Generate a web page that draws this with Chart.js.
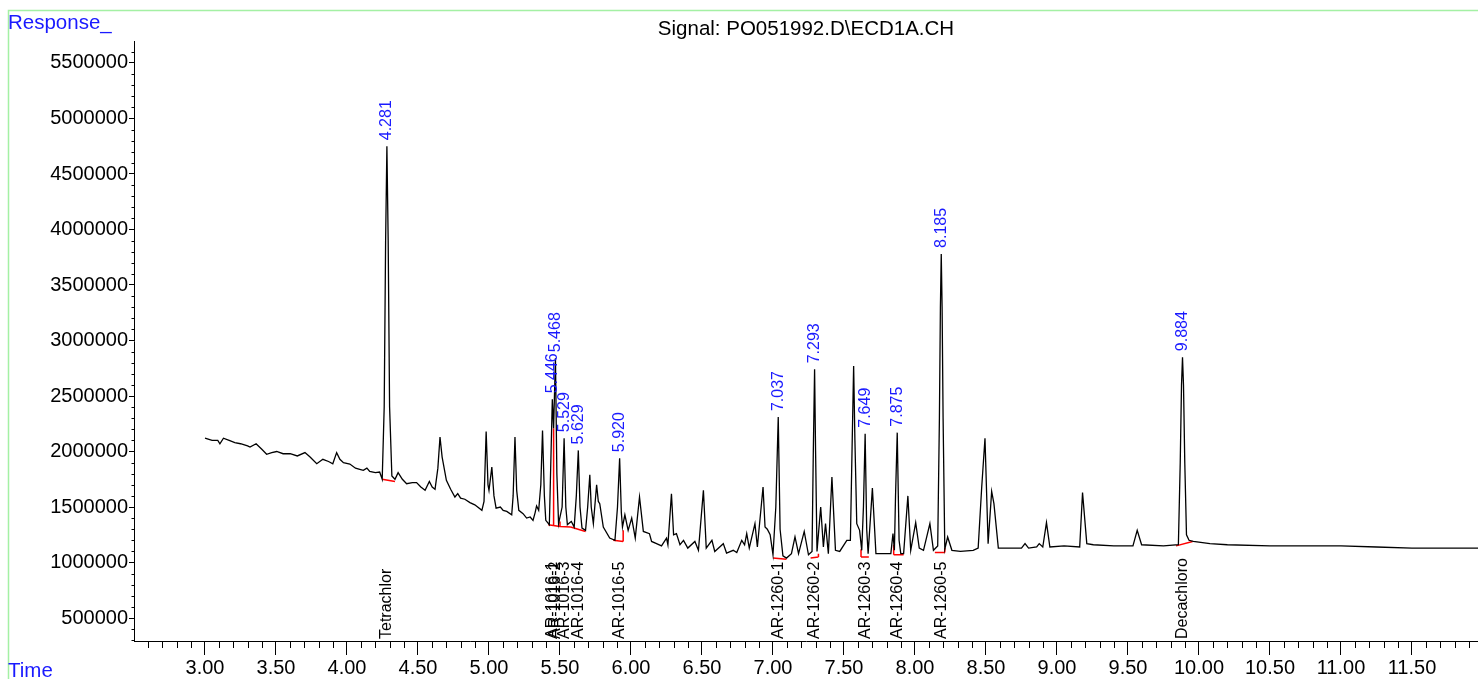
<!DOCTYPE html>
<html>
<head>
<meta charset="utf-8">
<script src="https://cdn.jsdelivr.net/npm/chart.js@4/dist/chart.umd.min.js"></script>
<style>
  body { margin: 0; background: #fff; }
  #wrap { width: 1478px; height: 679px; position: relative; }
</style>
</head>
<body>
<div id="wrap"><canvas id="gcChart" width="1478" height="679"></canvas></div>
<script>
// signal trace (retention time in min, response)
var traceTimes = [3.00, 3.05, 3.09, 3.105, 3.13, 3.17, 3.21, 3.25, 3.30, 3.317, 3.36, 3.40, 3.434, 3.47, 3.505,
  3.55, 3.60, 3.65, 3.704, 3.74, 3.787, 3.83, 3.87, 3.90, 3.927, 3.95, 3.975, 4.02, 4.06, 4.09, 4.115, 4.14,
  4.16, 4.20, 4.23, 4.248, 4.262, 4.272, 4.281, 4.29, 4.30, 4.316, 4.338, 4.36, 4.39, 4.42, 4.46, 4.49, 4.52,
  4.55, 4.58, 4.60, 4.62, 4.64, 4.655, 4.67, 4.70, 4.73, 4.76, 4.78, 4.80, 4.83, 4.866, 4.90, 4.95, 4.965,
  4.98, 4.993, 5.00, 5.02, 5.035, 5.05, 5.08, 5.10, 5.125, 5.16, 5.17, 5.183, 5.195, 5.21, 5.24, 5.265, 5.29,
  5.31, 5.325, 5.335, 5.35, 5.365, 5.377, 5.39, 5.40, 5.425, 5.446, 5.455, 5.468, 5.478, 5.49, 5.515, 5.529,
  5.541, 5.552, 5.57, 5.58, 5.60, 5.615, 5.629, 5.641, 5.655, 5.68, 5.695, 5.71, 5.72, 5.735, 5.758, 5.77,
  5.78, 5.805, 5.85, 5.887, 5.905, 5.920, 5.932, 5.94, 5.957, 5.98, 6.005, 6.03, 6.06, 6.087, 6.13, 6.145,
  6.18, 6.215, 6.25, 6.26, 6.285, 6.30, 6.32, 6.345, 6.37, 6.40, 6.45, 6.475, 6.51, 6.53, 6.57, 6.59, 6.65,
  6.673, 6.72, 6.745, 6.78, 6.80, 6.815, 6.833, 6.873, 6.89, 6.93, 6.944, 6.96, 6.98, 7.00, 7.02, 7.037, 7.05,
  7.07, 7.095, 7.13, 7.155, 7.18, 7.22, 7.25, 7.275, 7.284, 7.293, 7.30, 7.31, 7.336, 7.355, 7.37, 7.39,
  7.415, 7.44, 7.47, 7.52, 7.545, 7.558, 7.568, 7.577, 7.59, 7.61, 7.625, 7.637, 7.649, 7.66, 7.67, 7.70,
  7.725, 7.78, 7.83, 7.845, 7.855, 7.863, 7.875, 7.888, 7.90, 7.92, 7.95, 7.97, 8.005, 8.03, 8.06, 8.105,
  8.13, 8.16, 8.172, 8.179, 8.185, 8.191, 8.198, 8.21, 8.23, 8.26, 8.32, 8.41, 8.445, 8.47, 8.493, 8.515,
  8.54, 8.556, 8.587, 8.67, 8.75, 8.775, 8.80, 8.857, 8.875, 8.90, 8.926, 8.95, 9.05, 9.16, 9.18, 9.21, 9.256,
  9.40, 9.535, 9.565, 9.596, 9.75, 9.855, 9.868, 9.877, 9.884, 9.891, 9.90, 9.912, 9.93, 9.96, 10.077, 10.20,
  10.50, 10.75, 11.00, 11.25, 11.50, 11.75, 11.965];
var traceResponses = [2120000, 2100000, 2100000, 2070000, 2120000, 2100000, 2080000, 2070000, 2050000, 2040000,
  2070000, 2020000, 1975000, 1990000, 2000000, 1980000, 1980000, 1960000, 1990000, 1950000, 1890000, 1930000,
  1910000, 1890000, 1990000, 1930000, 1900000, 1887000, 1850000, 1840000, 1830000, 1850000, 1820000, 1810000,
  1815000, 1750000, 2400000, 3900000, 4750000, 3900000, 2400000, 1780000, 1750000, 1810000, 1750000, 1710000,
  1720000, 1720000, 1680000, 1650000, 1730000, 1680000, 1660000, 1850000, 2130000, 1950000, 1740000, 1660000,
  1590000, 1620000, 1580000, 1570000, 1540000, 1520000, 1470000, 1550000, 2180000, 1700000, 1650000, 1860000,
  1600000, 1490000, 1500000, 1470000, 1460000, 1430000, 1600000, 2130000, 1650000, 1470000, 1440000, 1400000,
  1410000, 1380000, 1450000, 1510000, 1470000, 1700000, 2190000, 1600000, 1380000, 1340000, 2470000, 2210000,
  2840000, 1800000, 1350000, 1500000, 2120000, 1500000, 1340000, 1360000, 1370000, 1320000, 1600000, 2010000,
  1500000, 1310000, 1290000, 1500000, 1790000, 1500000, 1350000, 1700000, 1550000, 1530000, 1320000, 1220000,
  1200000, 1500000, 1940000, 1450000, 1320000, 1430000, 1290000, 1400000, 1220000, 1590000, 1280000, 1260000,
  1190000, 1170000, 1150000, 1220000, 1160000, 1620000, 1250000, 1260000, 1160000, 1200000, 1130000, 1190000,
  1110000, 1650000, 1130000, 1200000, 1100000, 1170000, 1085000, 1110000, 1090000, 1200000, 1160000, 1260000,
  1130000, 1350000, 1140000, 1680000, 1320000, 1300000, 1250000, 1070000, 1500000, 2310000, 1300000, 1060000,
  1040000, 1080000, 1230000, 1080000, 1280000, 1070000, 1100000, 2000000, 2740000, 2000000, 1100000, 1500000,
  1140000, 1350000, 1080000, 1770000, 1110000, 1100000, 1200000, 1200000, 2100000, 2770000, 2100000, 1350000,
  1290000, 1110000, 1500000, 2160000, 1300000, 1080000, 1670000, 1080000, 1080000, 1080000, 1260000, 1110000,
  1600000, 2170000, 1200000, 1080000, 1080000, 1600000, 1110000, 1360000, 1130000, 1110000, 1350000, 1110000,
  1150000, 2300000, 3300000, 3780000, 3300000, 2300000, 1120000, 1230000, 1110000, 1100000, 1110000, 1130000,
  1680000, 2120000, 1170000, 1640000, 1530000, 1130000, 1130000, 1130000, 1170000, 1130000, 1140000, 1170000,
  1140000, 1360000, 1140000, 1150000, 1140000, 1630000, 1170000, 1160000, 1150000, 1150000, 1290000, 1160000,
  1150000, 1160000, 1900000, 2600000, 2850000, 2600000, 1900000, 1250000, 1200000, 1190000, 1170000, 1160000,
  1150000, 1150000, 1150000, 1140000, 1130000, 1130000, 1130000];

// integration baselines (red)
var baseStartTimes = [4.248, 5.417, 5.50, 5.575, 5.875, 7.00, 7.265, 7.62, 7.85, 8.14, 9.838];
var baseStartResp = [1750000, 1340000, 1325000, 1320000, 1200000, 1040000, 1040000, 1050000, 1070000, 1090000, 1150000];
var baseEndTimes = [4.338, 5.50, 5.575, 5.68, 5.945, 7.095, 7.32, 7.675, 7.92, 8.21, 9.955];
var baseEndResp = [1730000, 1325000, 1320000, 1280000, 1190000, 1030000, 1050000, 1050000, 1070000, 1090000, 1190000];
var dropTimes = [5.455, 5.50, 5.945, 7.32, 7.62, 7.85, 8.21];
var dropLow = [1335000, 1325000, 1190000, 1050000, 1050000, 1070000, 1090000];
var dropHigh = [2210000, 1370000, 1290000, 1080000, 1120000, 1160000, 1130000];

// peak annotations
var peakTexts = ['4.281', '5.446', '5.468', '5.529', '5.629', '5.920', '7.037', '7.293', '7.649', '7.875', '8.185', '9.884'];
var peakTimes = [4.281, 5.446, 5.468, 5.529, 5.629, 5.920, 7.037, 7.293, 7.649, 7.875, 8.185, 9.884];
var peakTops = [4750000, 2470000, 2840000, 2120000, 2010000, 1940000, 2310000, 2740000, 2160000, 2170000, 3780000, 2850000];
var compoundNames = ['Tetrachlor', 'AR-1016-1', 'AR-1016-2', 'AR-1016-3', 'AR-1016-4', 'AR-1016-5',
  'AR-1260-1', 'AR-1260-2', 'AR-1260-3', 'AR-1260-4', 'AR-1260-5', 'Decachloro'];

// axis ticks
var xTickValues = [3.0, 3.5, 4.0, 4.5, 5.0, 5.5, 6.0, 6.5, 7.0, 7.5, 8.0, 8.5, 9.0, 9.5, 10.0, 10.5, 11.0, 11.5];
var yTickValues = [500000, 1000000, 1500000, 2000000, 2500000, 3000000, 3500000, 4000000, 4500000, 5000000, 5500000];

var FONT = '"Liberation Sans", Arial, sans-serif';

var tracePts = traceTimes.map(function (t, i) { return { x: t, y: traceResponses[i] }; });
var redPts = [];
baseStartTimes.forEach(function (t, i) {
  redPts.push({ x: t, y: baseStartResp[i] });
  redPts.push({ x: baseEndTimes[i], y: baseEndResp[i] });
  redPts.push({ x: baseEndTimes[i], y: null });
});
dropTimes.forEach(function (t, i) {
  redPts.push({ x: t, y: dropLow[i] });
  redPts.push({ x: t, y: dropHigh[i] });
  redPts.push({ x: t, y: null });
});

var decorPlugin = {
  id: 'decor',
  beforeDraw: function (chart) {
    var c = chart.ctx;
    c.save();
    c.strokeStyle = '#a4f0a4';
    c.lineWidth = 1.5;
    c.beginPath();
    c.moveTo(8.5, 679); c.lineTo(8.5, 10.5); c.lineTo(1478, 10.5);
    c.stroke();
    c.restore();
  },
  afterDraw: function (chart) {
    var c = chart.ctx, xs = chart.scales.x, ys = chart.scales.y;
    var area = chart.chartArea;
    c.save();
    // minor ticks
    c.strokeStyle = '#000';
    c.lineWidth = 1;
    c.beginPath();
    for (var k = 26; k <= 119; k++) {
      if (k % 5 === 0) continue;
      var px = Math.round(xs.getPixelForValue(k / 10)) + 0.5;
      c.moveTo(px, area.bottom); c.lineTo(px, area.bottom + 7);
    }
    for (var m = 3; m <= 56; m++) {
      if (m % 5 === 0) continue;
      var py = Math.round(ys.getPixelForValue(m * 100000)) + 0.5;
      c.moveTo(area.left, py); c.lineTo(area.left - 2.5, py);
    }
    c.stroke();

    // texts
    c.fillStyle = '#1a1aff';
    c.font = '20.5px ' + FONT;
    c.textAlign = 'left';
    c.textBaseline = 'alphabetic';
    c.fillText('Response_', 8, 29);
    c.fillText('Time', 8, 677);
    c.fillStyle = '#000';
    c.textAlign = 'center';
    c.font = '20.5px ' + FONT;
    c.fillText('Signal: PO051992.D\\ECD1A.CH', 806, 35);

    // peak retention time labels
    c.font = '16px ' + FONT;
    c.fillStyle = '#1a1aff';
    c.textAlign = 'left';
    c.textBaseline = 'middle';
    peakTexts.forEach(function (txt, i) {
      var px = xs.getPixelForValue(peakTimes[i]);
      var py = ys.getPixelForValue(peakTops[i]) - 6;
      c.save();
      c.translate(px, py);
      c.rotate(-Math.PI / 2);
      c.fillText(txt, 0, 0);
      c.restore();
    });

    // compound names along the axis
    c.font = '16px ' + FONT;
    c.fillStyle = '#000';
    compoundNames.forEach(function (txt, i) {
      var px = xs.getPixelForValue(peakTimes[i]);
      c.save();
      c.translate(px, area.bottom - 2);
      c.rotate(-Math.PI / 2);
      c.fillText(txt, 0, 0);
      c.restore();
    });
    c.restore();
  }
};

var ctx = document.getElementById('gcChart');
var gcChart = new Chart(ctx, {
  type: 'line',
  data: {
    datasets: [
      { data: tracePts, borderColor: '#000', borderWidth: 1.3, pointRadius: 0, tension: 0 },
      { data: redPts, borderColor: '#ff0000', borderWidth: 1.5, pointRadius: 0, tension: 0, spanGaps: false }
    ]
  },
  options: {
    responsive: false,
    animation: false,
    devicePixelRatio: 1,
    layout: { padding: { top: 41, right: 0, left: 0, bottom: 0 } },
    plugins: { legend: { display: false }, tooltip: { enabled: false }, title: { display: false } },
    scales: {
      x: {
        type: 'linear',
        min: 2.5,
        max: 11.965,
        afterBuildTicks: function (s) { s.ticks = xTickValues.map(function (v) { return { value: v }; }); },
        afterFit: function (s) { s.height = 38; },
        ticks: {
          autoSkip: false, maxRotation: 0, padding: 1, color: '#000',
          font: { size: 20, family: FONT },
          callback: function (v) { return Number(v).toFixed(2); }
        },
        grid: { drawOnChartArea: false, drawTicks: true, tickLength: 14, tickColor: '#000' },
        border: { display: true, color: '#000', width: 1 }
      },
      y: {
        min: 293000,
        max: 5698000,
        afterBuildTicks: function (s) { s.ticks = yTickValues.map(function (v) { return { value: v }; }); },
        afterFit: function (s) { s.width = 134; },
        ticks: {
          padding: 1, color: '#000',
          font: { size: 20, family: FONT },
          callback: function (v) { return String(v); }
        },
        grid: { drawOnChartArea: false, drawTicks: true, tickLength: 5, tickColor: '#000' },
        border: { display: true, color: '#000', width: 1 }
      }
    }
  },
  plugins: [decorPlugin]
});
</script>
</body>
</html>
